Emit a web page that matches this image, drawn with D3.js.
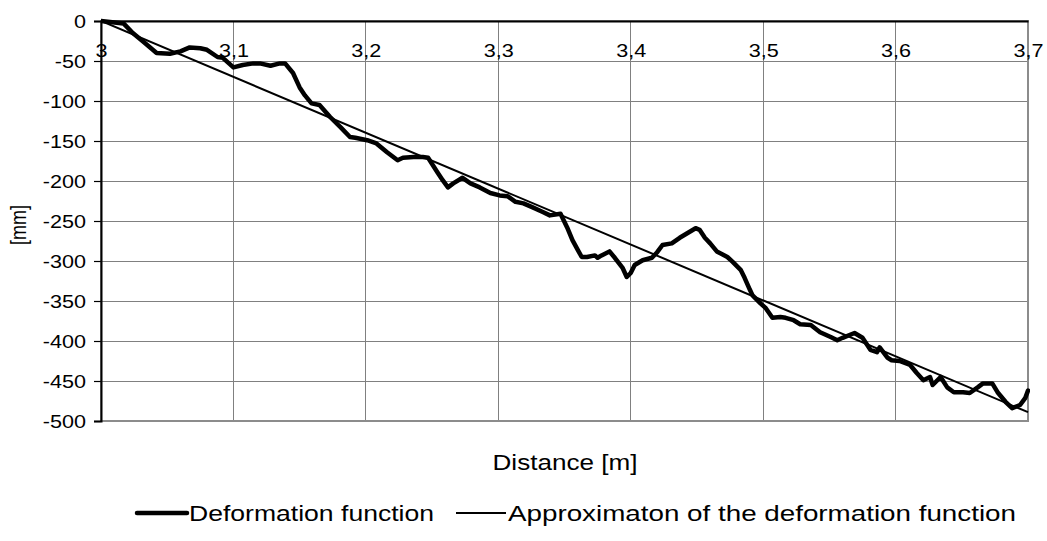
<!DOCTYPE html>
<html>
<head>
<meta charset="utf-8">
<script src="https://cdn.jsdelivr.net/npm/d3@7"></script>
<style>
  html, body { margin: 0; padding: 0; background: #fff; }
  svg { display: block; }
  text { font-family: Arial, "Liberation Sans", sans-serif; fill: #000; }
</style>
</head>
<body>
<svg id="chart" width="1047" height="541"></svg>
<script>
// Deformation function (distance in m, deformation in mm)
const defX = [3.000, 3.017, 3.024, 3.032, 3.042, 3.052, 3.060, 3.067, 3.075, 3.080, 3.088, 3.092, 3.100, 3.107, 3.115, 3.120, 3.128, 3.135, 3.139, 3.145, 3.150, 3.154, 3.159, 3.165, 3.173, 3.181, 3.188, 3.192, 3.201, 3.208, 3.216, 3.224, 3.228, 3.236, 3.243, 3.247, 3.254, 3.258, 3.262, 3.266, 3.273, 3.279, 3.286, 3.294, 3.301, 3.307, 3.313, 3.319, 3.326, 3.334, 3.339, 3.347, 3.352, 3.356, 3.360, 3.363, 3.367, 3.373, 3.375, 3.378, 3.384, 3.388, 3.394, 3.397, 3.400, 3.403, 3.409, 3.416, 3.420, 3.424, 3.431, 3.437, 3.443, 3.449, 3.452, 3.456, 3.460, 3.465, 3.473, 3.477, 3.483, 3.486, 3.490, 3.492, 3.498, 3.502, 3.507, 3.513, 3.517, 3.523, 3.528, 3.536, 3.543, 3.551, 3.556, 3.560, 3.569, 3.575, 3.581, 3.586, 3.588, 3.594, 3.597, 3.603, 3.611, 3.616, 3.621, 3.626, 3.628, 3.634, 3.639, 3.644, 3.651, 3.656, 3.662, 3.666, 3.673, 3.677, 3.683, 3.688, 3.694, 3.698, 3.700];
const defY = [0, -3, -15, -26, -40, -41, -38, -33, -34, -36, -45, -46, -58, -55, -53, -53, -56, -53, -53, -65, -83, -93, -103, -105, -120, -133, -145, -146, -149, -153, -164, -174, -171, -170, -170, -171, -189, -199, -208, -203, -196, -203, -208, -215, -218, -219, -226, -228, -233, -239, -243, -241, -258, -274, -286, -295, -295, -293, -296, -293, -288, -296, -309, -320, -315, -305, -299, -296, -289, -280, -278, -271, -265, -259, -261, -271, -278, -288, -295, -301, -311, -321, -336, -343, -353, -359, -371, -370, -371, -374, -379, -380, -389, -395, -399, -396, -390, -396, -411, -414, -408, -421, -424, -425, -430, -440, -449, -445, -455, -445, -458, -464, -464, -465, -458, -453, -453, -464, -476, -484, -480, -471, -462];

// Linear approximation of the deformation function
const approxX = [3.0, 3.7];
const approxY = [0, -489];

// Axis ticks
const xTicks = [3.0, 3.1, 3.2, 3.3, 3.4, 3.5, 3.6, 3.7];
const xTickLabels = ["3", "3,1", "3,2", "3,3", "3,4", "3,5", "3,6", "3,7"];
const yTicks = [0, -50, -100, -150, -200, -250, -300, -350, -400, -450, -500];

const xTitle = "Distance [m]";
const yTitle = "[mm]";
const seriesNames = ["Deformation function", "Approximaton of the deformation function"];

const svg = d3.select("#chart");
const m = { left: 101, top: 21, right: 1028, bottom: 421 };
const SX = 1.2; // horizontal stretch of the original picture's text

const x = d3.scaleLinear().domain([3.0, 3.7]).range([m.left, m.right]);
const y = d3.scaleLinear().domain([-500, 0]).range([m.bottom, m.top]);

// Gridlines
const grid = svg.append("g");
grid.selectAll("line.h").data(yTicks).enter().append("line")
  .attr("x1", m.left).attr("x2", m.right)
  .attr("y1", d => y(d)).attr("y2", d => y(d))
  .attr("stroke", "#808080").attr("stroke-width", 1).attr("shape-rendering", "crispEdges");
grid.selectAll("line.v").data(xTicks).enter().append("line")
  .attr("x1", d => x(d)).attr("x2", d => x(d))
  .attr("y1", m.top).attr("y2", m.bottom)
  .attr("stroke", "#808080").attr("stroke-width", 1).attr("shape-rendering", "crispEdges");

// Plot frame (right and bottom gray)
svg.append("rect")
  .attr("x", m.left).attr("y", m.top)
  .attr("width", m.right - m.left).attr("height", m.bottom - m.top)
  .attr("fill", "none").attr("stroke", "#8c8c8c").attr("stroke-width", 2);

// Y axis
const yAxis = d3.axisLeft(y).tickValues(yTicks).tickSize(7).tickFormat(d => String(d));
const gy = svg.append("g").attr("transform", `translate(${m.left},0)`).call(yAxis);
gy.select(".domain").attr("stroke", "#000").attr("stroke-width", 2);
gy.selectAll(".tick line").attr("stroke", "#000").attr("stroke-width", 1.2);
gy.selectAll(".tick text")
  .attr("x", 0).attr("dy", "0.35em")
  .attr("transform", `translate(-15,0) scale(${SX},1)`)
  .attr("font-size", 18).attr("font-family", "Arial, 'Liberation Sans', sans-serif").attr("fill", "#000");

// X axis at y = 0 (top), labels inside the plot below it
const xAxis = d3.axisBottom(x).tickValues(xTicks).tickSize(0)
  .tickFormat((d, i) => xTickLabels[i]);
const gx = svg.append("g").attr("transform", `translate(0,${y(0)})`).call(xAxis);
gx.select(".domain").attr("stroke", "#000").attr("stroke-width", 2);
gx.selectAll(".tick text")
  .attr("y", 0).attr("dy", 0)
  .attr("transform", `translate(0,36) scale(${SX},1)`)
  .attr("font-size", 18).attr("font-family", "Arial, 'Liberation Sans', sans-serif").attr("fill", "#000");

// Clip for series
svg.append("clipPath").attr("id", "plotclip").append("rect")
  .attr("x", m.left).attr("y", m.top - 3).attr("width", m.right - m.left + 2).attr("height", m.bottom - m.top + 6);

const line = d3.line().x(d => x(d[0])).y(d => y(d[1])).curve(d3.curveLinear);

// Approximation line
svg.append("path")
  .datum(d3.zip(approxX, approxY))
  .attr("d", line)
  .attr("fill", "none").attr("stroke", "#000").attr("stroke-width", 2)
  .attr("clip-path", "url(#plotclip)");

// Deformation function
svg.append("path")
  .datum(d3.zip(defX, defY))
  .attr("d", line)
  .attr("fill", "none").attr("stroke", "#000").attr("stroke-width", 4.5)
  .attr("stroke-linejoin", "round").attr("stroke-linecap", "round")
  .attr("clip-path", "url(#plotclip)");

// Titles
svg.append("text").attr("x", 565).attr("y", 470).attr("text-anchor", "middle")
  .attr("font-size", 22).attr("textLength", 145).attr("lengthAdjust", "spacingAndGlyphs").text(xTitle);
svg.append("text").attr("transform", `translate(26,225) scale(${SX},1) rotate(-90)`).attr("text-anchor", "middle")
  .attr("font-size", 18).text(yTitle);

// Legend
const lg = svg.append("g");
lg.append("line").attr("x1", 137).attr("x2", 187).attr("y1", 513).attr("y2", 513)
  .attr("stroke", "#000").attr("stroke-width", 4.5).attr("stroke-linecap", "round");
lg.append("text").attr("x", 189).attr("y", 521).attr("font-size", 22)
  .attr("textLength", 245).attr("lengthAdjust", "spacingAndGlyphs").text(seriesNames[0]);
lg.append("line").attr("x1", 456).attr("x2", 506).attr("y1", 513).attr("y2", 513)
  .attr("stroke", "#000").attr("stroke-width", 2);
lg.append("text").attr("x", 508).attr("y", 521).attr("font-size", 22)
  .attr("textLength", 508).attr("lengthAdjust", "spacingAndGlyphs").text(seriesNames[1]);
</script>
</body>
</html>
